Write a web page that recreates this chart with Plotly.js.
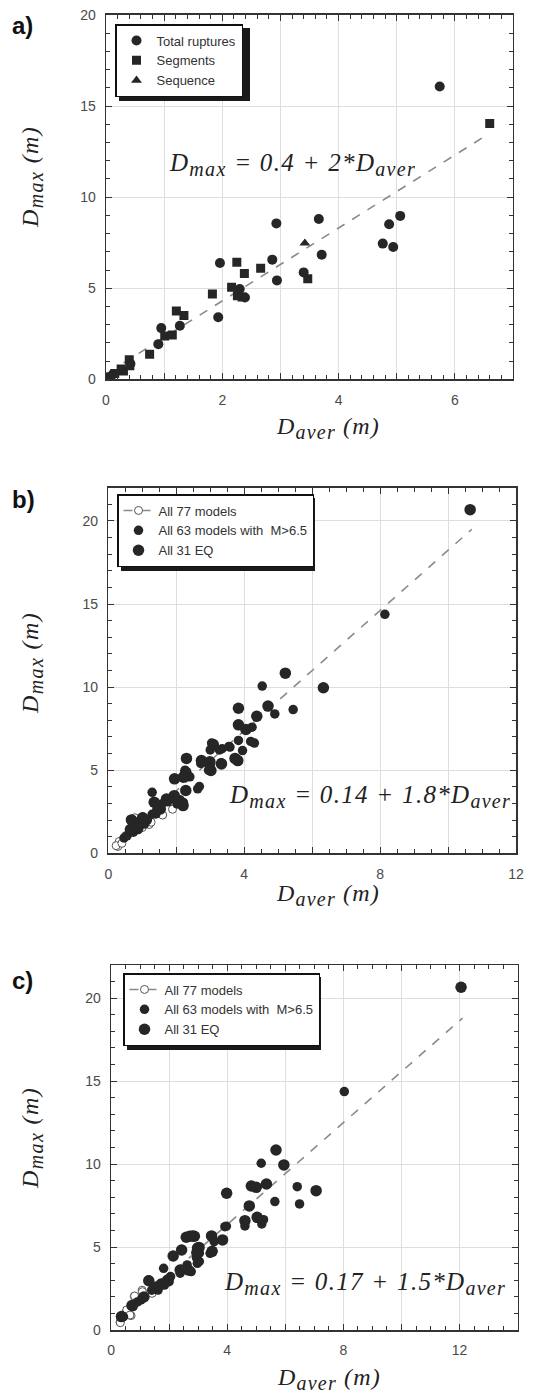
<!DOCTYPE html>
<html>
<head>
<meta charset="utf-8">
<script src="https://cdn.plot.ly/plotly-3.0.1.min.js"></script>
<style>
  html, body { margin: 0; padding: 0; background: #ffffff; }
  #chart { width: 551px; height: 1395px; }
</style>
</head>
<body>
<div id="chart"></div>
<script>
// ---------- Panel a) ----------
const ruptX_a = [5.74, 4.87, 5.06, 4.76, 4.94, 3.66, 2.93, 3.71, 2.86, 2.94, 3.40, 1.96, 1.93, 2.30, 2.39, 1.27, 0.95, 0.90, 0.12, 0.42];
const ruptY_a = [16.07, 8.51, 8.97, 7.45, 7.26, 8.80, 8.56, 6.84, 6.57, 5.43, 5.87, 6.38, 3.41, 4.96, 4.49, 2.94, 2.81, 1.93, 0.28, 0.85];
const segX_a = [6.60, 3.47, 2.25, 2.38, 2.66, 1.83, 2.16, 2.26, 2.34, 1.21, 1.34, 1.01, 1.14, 0.75, 0.40, 0.41, 0.26, 0.30, 0.15, 0.04, 0.08];
const segY_a = [14.05, 5.52, 6.42, 5.81, 6.09, 4.68, 5.06, 4.59, 4.52, 3.75, 3.50, 2.38, 2.43, 1.37, 1.07, 0.75, 0.56, 0.45, 0.32, 0.09, 0.14];
const seqX_a = [3.42];
const seqY_a = [7.47];
const fitX_a = [0.3, 6.57];
const fitY_a = [0.9, 13.45];

// ---------- Panel b) ----------
const eqX_b = [10.65, 6.33, 5.21, 4.70, 4.37, 3.83, 3.83, 4.05, 3.81, 3.09, 2.74, 2.98, 3.02, 3.33, 2.30, 2.28, 2.21, 1.95, 2.28, 2.09, 2.20, 1.35, 1.53, 0.68, 0.88, 1.71, 1.94, 3.73, 0.65, 1.01, 2.99];
const eqY_b = [20.68, 9.96, 10.84, 8.86, 8.25, 8.73, 7.73, 7.45, 5.58, 6.55, 5.58, 5.38, 4.98, 5.38, 5.71, 4.88, 4.58, 4.48, 3.78, 3.17, 2.87, 3.07, 2.67, 2.01, 1.57, 3.27, 3.47, 5.71, 1.43, 2.14, 5.51];
const m63X_b = [8.14, 4.53, 5.44, 4.90, 4.23, 3.83, 3.95, 4.30, 3.58, 3.35, 3.00, 2.68, 1.29, 2.02, 1.40, 1.02, 0.74, 0.46, 1.07, 1.57, 2.07, 2.21, 1.43, 1.29, 0.92, 0.88, 2.26, 3.32, 4.19, 2.63, 2.72, 3.04, 3.27, 3.55, 2.95, 0.55, 1.15, 1.85, 2.40, 1.75];
const m63Y_b = [14.38, 10.06, 8.65, 8.39, 7.59, 6.79, 6.18, 6.63, 6.39, 6.29, 6.22, 4.02, 3.67, 2.97, 2.37, 2.17, 1.27, 0.92, 1.77, 2.96, 3.16, 3.06, 2.65, 2.35, 1.94, 1.43, 5.00, 5.45, 6.73, 3.88, 5.41, 6.63, 6.22, 6.43, 5.00, 1.05, 2.00, 3.30, 4.60, 3.10];
const allX_b = [0.28, 0.32, 0.78, 1.20, 1.89, 1.26, 0.51, 0.23, 0.40, 0.60, 1.00, 1.60];
const allY_b = [0.41, 0.71, 2.14, 1.73, 2.65, 1.87, 1.06, 0.46, 0.60, 1.20, 1.55, 2.30];
const fitX_b = [0.3, 10.70];
const fitY_b = [0.68, 19.5];

// ---------- Panel c) ----------
const eqX_c = [12.05, 5.68, 5.95, 5.35, 4.83, 3.98, 7.06, 4.76, 5.03, 2.59, 2.81, 3.84, 3.03, 2.43, 2.14, 1.73, 3.46, 5.00, 2.71, 2.87, 4.61, 1.30, 1.95, 2.98, 3.48, 2.38, 0.36, 0.72, 1.56, 1.13, 2.66];
const eqY_c = [20.66, 10.85, 9.95, 8.80, 8.68, 8.24, 8.40, 7.48, 6.79, 5.59, 5.67, 5.43, 4.98, 4.82, 4.46, 2.77, 5.67, 8.60, 5.65, 5.65, 6.59, 2.97, 3.01, 4.94, 4.74, 3.62, 0.81, 1.48, 2.60, 1.99, 3.62];
const m63X_c = [8.03, 5.17, 6.41, 5.64, 6.49, 4.61, 4.61, 5.19, 3.92, 3.55, 2.92, 2.94, 3.41, 2.97, 2.62, 2.38, 2.76, 1.81, 2.05, 1.51, 1.03, 0.76, 0.43, 1.62, 1.84, 2.00, 1.29, 1.40, 0.91, 1.73, 3.04, 3.04, 3.97, 5.25];
const m63Y_c = [14.37, 10.05, 8.64, 7.74, 7.60, 6.59, 6.27, 6.39, 6.23, 5.33, 4.66, 4.36, 4.62, 4.02, 3.92, 3.42, 3.52, 3.72, 3.22, 2.51, 1.81, 1.41, 0.80, 2.41, 2.71, 2.91, 3.01, 2.40, 1.69, 2.80, 4.63, 4.13, 6.26, 6.65];
const allX_c = [0.31, 0.52, 0.69, 0.80, 1.07, 1.41, 1.08, 0.81, 0.54, 0.65, 0.32];
const allY_c = [0.47, 1.08, 0.87, 2.03, 2.40, 2.21, 2.31, 2.05, 1.21, 0.90, 0.44];
const fitX_c = [0.35, 12.1];
const fitY_c = [0.75, 18.8];

// ---------- Axis ticks ----------
const xRange_a = [0, 7], xRange_b = [0, 12], xRange_c = [0, 14], yRange_a = [0, 20], yRange_bc = [0, 22];
const xGridStep_a = 1, xMinor_a = 0.2;      // labels every 2nd grid line
const xGridStep_bc = 2, xMinor_bc = 0.5;    // labels every 2nd grid line
const yLabelStep = 5, yMinor = 1;

// ---------- Texts ----------
const legendNames_a = ['Total ruptures', 'Segments', 'Sequence'];
const legendNames_bc = ['All 77 models', 'All 63 models with  M>6.5', 'All 31 EQ'];
function sub(t) { return '<sub><span style="font-size:20px">' + t + '</span></sub>'; }
function spaced(t, px) { return '<span style="letter-spacing:' + px + 'px">' + t + '</span>'; }
const eqText_a = '<i>' + spaced('D' + sub('max') + ' = 0.4 + 2*D' + sub('aver'), 1.3) + '</i>';
const eqText_b = '<i>' + spaced('D' + sub('max') + ' = 0.14 + 1.8*D' + sub('aver'), 1.3) + '</i>';
const eqText_c = '<i>' + spaced('D' + sub('max') + ' = 0.17 + 1.5*D' + sub('aver'), 1.3) + '</i>';
const yTitle = '<i>' + spaced('D' + sub('max') + ' (m)', 1.4) + '</i>';
const xTitle = '<i>' + spaced('D' + sub('aver') + ' (m)', 1.2) + '</i>';
const panelLabels = ['a)', 'b)', 'c)'];

const W = 551, H = 1395;
const DARK = '#262626';
const fitLine = { color: '#8a8a8a', width: 1.6, dash: 'dash' };
const openMarker = { symbol: 'circle', size: 8, color: '#ffffff', line: { color: '#555', width: 1 } };

const data = [
  // panel a
  { x: fitX_a, y: fitY_a, xaxis: 'x', yaxis: 'y', mode: 'lines', line: fitLine, showlegend: false, hoverinfo: 'skip' },
  { x: ruptX_a, y: ruptY_a, xaxis: 'x', yaxis: 'y', mode: 'markers', name: legendNames_a[0], legend: 'legend',
    marker: { symbol: 'circle', size: 10, color: DARK } },
  { x: segX_a, y: segY_a, xaxis: 'x', yaxis: 'y', mode: 'markers', name: legendNames_a[1], legend: 'legend',
    marker: { symbol: 'square', size: 9, color: DARK } },
  { x: seqX_a, y: seqY_a, xaxis: 'x', yaxis: 'y', mode: 'markers', name: legendNames_a[2], legend: 'legend',
    marker: { symbol: 'triangle-up', size: 9.5, color: DARK } },

  // panel b
  { x: fitX_b, y: fitY_b, xaxis: 'x2', yaxis: 'y2', mode: 'lines', line: fitLine, showlegend: false, hoverinfo: 'skip' },
  { x: [null], y: [null], xaxis: 'x2', yaxis: 'y2', mode: 'lines+markers', name: legendNames_bc[0], legend: 'legend2',
    line: fitLine, marker: openMarker },
  { x: allX_b, y: allY_b, xaxis: 'x2', yaxis: 'y2', mode: 'markers', showlegend: false, marker: openMarker },
  { x: m63X_b, y: m63Y_b, xaxis: 'x2', yaxis: 'y2', mode: 'markers', name: legendNames_bc[1], legend: 'legend2',
    marker: { symbol: 'circle', size: 9.5, color: DARK } },
  { x: eqX_b, y: eqY_b, xaxis: 'x2', yaxis: 'y2', mode: 'markers', name: legendNames_bc[2], legend: 'legend2',
    marker: { symbol: 'circle', size: 11.5, color: DARK } },

  // panel c
  { x: fitX_c, y: fitY_c, xaxis: 'x3', yaxis: 'y3', mode: 'lines', line: fitLine, showlegend: false, hoverinfo: 'skip' },
  { x: [null], y: [null], xaxis: 'x3', yaxis: 'y3', mode: 'lines+markers', name: legendNames_bc[0], legend: 'legend3',
    line: fitLine, marker: openMarker },
  { x: allX_c, y: allY_c, xaxis: 'x3', yaxis: 'y3', mode: 'markers', showlegend: false, marker: openMarker },
  { x: m63X_c, y: m63Y_c, xaxis: 'x3', yaxis: 'y3', mode: 'markers', name: legendNames_bc[1], legend: 'legend3',
    marker: { symbol: 'circle', size: 9.5, color: DARK } },
  { x: eqX_c, y: eqY_c, xaxis: 'x3', yaxis: 'y3', mode: 'markers', name: legendNames_bc[2], legend: 'legend3',
    marker: { symbol: 'circle', size: 11.5, color: DARK } }
];

const tickFont = { family: 'Liberation Sans, Arial, sans-serif', size: 14, color: '#4a4a4a' };

function xAxis(domain, range, gridStep, minorDt, anchor) {
  return {
    domain: domain, range: range, anchor: anchor,
    tickmode: 'linear', tick0: 0, dtick: gridStep, ticklabelstep: 2,
    ticks: 'inside', ticklen: 6, tickwidth: 1, tickcolor: '#333',
    showline: true, linecolor: '#333', linewidth: 1.5, mirror: 'allticks',
    showgrid: true, gridcolor: '#dedede', gridwidth: 1, zeroline: false,
    tickfont: tickFont, ticklabelstandoff: 7,
    minor: { dtick: minorDt, tick0: 0, ticks: 'inside', ticklen: 4, tickcolor: '#333', showgrid: false }
  };
}
function yAxis(domain, range, anchor) {
  return {
    domain: domain, range: range, anchor: anchor,
    tickmode: 'linear', tick0: 0, dtick: yLabelStep,
    ticks: 'inside', ticklen: 6, tickwidth: 1, tickcolor: '#333',
    showline: true, linecolor: '#333', linewidth: 1.5, mirror: 'allticks',
    showgrid: true, gridcolor: '#dedede', gridwidth: 1, zeroline: false,
    tickfont: tickFont, ticklabelstandoff: 6,
    minor: { dtick: yMinor, tick0: 0, ticks: 'inside', ticklen: 4, tickcolor: '#333', showgrid: false }
  };
}

// legend boxes (px from top-left) and their drop shadows
const legendBoxes = [
  { left: 115, top: 24,  right: 246, bottom: 97 },
  { left: 117, top: 494, right: 311, bottom: 567 },
  { left: 123, top: 973, right: 317, bottom: 1046 }
];
const shadowOff = 4;

function legendStyle(box) {
  return {
    x: box.left / W, y: 1 - box.top / H, xref: 'paper', yref: 'paper', xanchor: 'left', yanchor: 'top',
    bgcolor: '#ffffff', bordercolor: '#111', borderwidth: 1.5,
    font: { family: 'Liberation Sans, Arial, sans-serif', size: 13, color: '#333' },
    tracegroupgap: 0
  };
}
const shadowShapes = legendBoxes.map(function (b) {
  return {
    type: 'rect', xref: 'paper', yref: 'paper', layer: 'above',
    x0: (b.left + shadowOff) / W, x1: (b.right + shadowOff) / W,
    y0: 1 - (b.bottom + shadowOff) / H, y1: 1 - (b.top + shadowOff) / H,
    fillcolor: '#1a1a1a', line: { width: 0 }
  };
});

const titleFont = { family: 'Liberation Serif, Times New Roman, serif', size: 24, color: '#222' };
const eqFont = { family: 'Liberation Serif, Times New Roman, serif', size: 25, color: '#222' };
const labelFont = { family: 'Liberation Sans, Arial, sans-serif', size: 24, color: '#111' };

function ann(text, x, y, xref, yref, font, extra) {
  return Object.assign({ text: text, x: x, y: y, xref: xref, yref: yref, showarrow: false, font: font }, extra || {});
}

const layout = {
  width: W, height: H,
  margin: { l: 0, r: 0, t: 0, b: 0 },
  paper_bgcolor: '#ffffff', plot_bgcolor: '#ffffff',
  xaxis: xAxis([0.1924, 0.9310], xRange_a, xGridStep_a, xMinor_a, 'y'),
  yaxis: yAxis([0.7281, 0.98925], yRange_a, 'x'),
  xaxis2: xAxis([0.1966, 0.9365], xRange_b, xGridStep_bc, xMinor_bc, 'y2'),
  yaxis2: yAxis([0.38832, 0.65039], yRange_bc, 'x2'),
  xaxis3: xAxis([0.2015, 0.9396], xRange_c, xGridStep_bc, xMinor_bc, 'y3'),
  yaxis3: yAxis([0.04659, 0.30824], yRange_bc, 'x3'),
  legend: legendStyle(legendBoxes[0]),
  legend2: legendStyle(legendBoxes[1]),
  legend3: legendStyle(legendBoxes[2]),
  shapes: shadowShapes,
  annotations: [
    ann(eqText_a, 1.05, 11.8, 'x', 'y', eqFont, { xanchor: 'left', yanchor: 'middle' }),
    ann(eqText_b, 3.49, 3.41, 'x2', 'y2', eqFont, { xanchor: 'left', yanchor: 'middle' }),
    ann(eqText_c, 3.82, 2.82, 'x3', 'y3', eqFont, { xanchor: 'left', yanchor: 'middle' }),
    ann(xTitle, 0.5953, 0.6935, 'paper', 'paper', titleFont, { xanchor: 'center', yanchor: 'middle' }),
    ann(yTitle, 0.0581, 0.8731, 'paper', 'paper', titleFont, { xanchor: 'center', yanchor: 'middle', textangle: -90 }),
    ann(xTitle, 0.5953, 0.3585, 'paper', 'paper', titleFont, { xanchor: 'center', yanchor: 'middle' }),
    ann(yTitle, 0.0581, 0.5247, 'paper', 'paper', titleFont, { xanchor: 'center', yanchor: 'middle', textangle: -90 }),
    ann(xTitle, 0.5971, 0.0118, 'paper', 'paper', titleFont, { xanchor: 'center', yanchor: 'middle' }),
    ann(yTitle, 0.0581, 0.1842, 'paper', 'paper', titleFont, { xanchor: 'center', yanchor: 'middle', textangle: -90 }),
    ann('<b>' + panelLabels[0] + '</b>', 0.0181, 0.9814, 'paper', 'paper', labelFont, { xanchor: 'left', yanchor: 'middle' }),
    ann('<b>' + panelLabels[1] + '</b>', 0.0181, 0.6416, 'paper', 'paper', labelFont, { xanchor: 'left', yanchor: 'middle' }),
    ann('<b>' + panelLabels[2] + '</b>', 0.0181, 0.2968, 'paper', 'paper', labelFont, { xanchor: 'left', yanchor: 'middle' })
  ]
};

Plotly.newPlot(document.getElementById('chart'), data, layout, { displayModeBar: false, staticPlot: true });
</script>
</body>
</html>
